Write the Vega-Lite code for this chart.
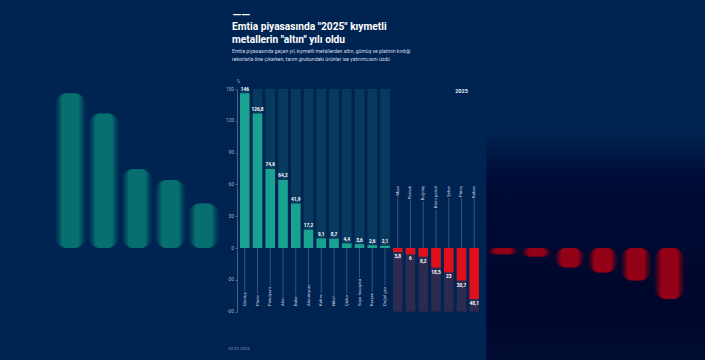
{
  "$schema": "https://vega.github.io/schema/vega-lite/v6.json",
  "width": 245,
  "height": 222.6,
  "autosize": {"type": "none"},
  "padding": {"left": 237, "top": 89, "right": 223, "bottom": 48.4},
  "background": "#002451",
  "config": {
    "view": {"stroke": null},
    "font": "Roboto",
    "axis": {"labelOverlap": false},
    "axisY": {"labelOverlap": false, "labelBound": false, "grid": false, "domain": true, "domainColor": "#5f7396", "domainWidth": 0.8, "ticks": true, "tickSize": 2, "tickColor": "#5f7396", "tickWidth": 0.8, "labelFontSize": 4.8, "labelColor": "#a3afca", "labelPadding": 1.5, "titleAngle": 0, "titleX": 1, "titleY": -8, "titleAlign": "center", "titleBaseline": "middle", "titleFontSize": 4.5, "titleFontWeight": "normal", "titleColor": "#a3afca"},
    "locale": {"number": {"decimal": ",", "thousands": ".", "grouping": [3], "currency": ["", ""], "minus": ""}}
  },
  "title": {
    "text": ["Emtia piyasasında \"2025\" kıymetli", "metallerin \"altın\" yılı oldu"],
    "subtitle": ["Emtia piyasasında geçen yıl, kıymetli metallerden altın, gümüş ve platinin kırdığı", "rekorlarla öne çıkarken, tarım grubundaki ürünler ise yatırımcısını üzdü"],
    "anchor": "start",
    "frame": "group",
    "orient": "top",
    "dx": -5,
    "offset": -53,
    "fontSize": 10.2,
    "fontWeight": "bold",
    "lineHeight": 12.6,
    "color": "#ffffff",
    "subtitleFontSize": 5.1,
    "subtitleLineHeight": 8,
    "subtitlePadding": 3.5,
    "subtitleColor": "#d3dae8"
  },
  "datasets": {
    "main": [
      {"name": "Gümüş", "value": 146},
      {"name": "Platin", "value": 126.8},
      {"name": "Paladyum", "value": 74.6},
      {"name": "Altın", "value": 64.2},
      {"name": "Bakır", "value": 41.9},
      {"name": "Alüminyum", "value": 17.2},
      {"name": "Kahve", "value": 9.1},
      {"name": "Nikel", "value": 8.7},
      {"name": "Çinko", "value": 4.4},
      {"name": "Soya fasulyesi", "value": 3.6},
      {"name": "Kurşun", "value": 2.6},
      {"name": "Doğal gaz", "value": 2.1},
      {"name": "Mısır", "value": -3.8},
      {"name": "Pamuk", "value": -6},
      {"name": "Buğday", "value": -8.2},
      {"name": "Brent petrol", "value": -18.5},
      {"name": "Şeker", "value": -23},
      {"name": "Pirinç", "value": -30.7},
      {"name": "Kakao", "value": -48.1}
    ]
  },
  "resolve": {"scale": {"x": "independent"}},
  "layer": [
    {
      "data": {"name": "main"},
      "encoding": {
        "x": {
          "field": "name", "type": "nominal",
          "axis": {"orient": "top", "labels": false, "ticks": false, "domain": false, "grid": false, "title": "——", "titleFontSize": 11.5, "titleFontWeight": "bold", "titleColor": "#ffffff", "titleX": -5, "titleY": -74.3, "titleAlign": "left", "titleBaseline": "middle", "titleAngle": 0},
          "scale": {
            "domain": ["Gümüş", "Platin", "Paladyum", "Altın", "Bakır", "Alüminyum", "Kahve", "Nikel", "Çinko", "Soya fasulyesi", "Kurşun", "Doğal gaz", "Mısır", "Pamuk", "Buğday", "Brent petrol", "Şeker", "Pirinç", "Kakao"],
            "range": [-183.1, 449.0], "paddingInner": 0, "paddingOuter": 0
          }
        }
      },
      "layer": [
        {
          "transform": [{"filter": {"field": "name", "equal": "Pamuk"}}],
          "mark": {"type": "bar", "clip": false},
          "encoding": {
            "x": {"datum": "Pamuk", "bandPosition": 0, "axis": {"orient": "top", "labels": false, "ticks": false, "domain": false, "grid": false, "title": "——", "titleFontSize": 11.5, "titleFontWeight": "bold", "titleColor": "#ffffff", "titleX": -5, "titleY": -74.3, "titleAlign": "left", "titleBaseline": "middle", "titleAngle": 0}},
            "x2": {"datum": "Kakao", "bandPosition": 1.7},
            "y": {"datum": 111, "type": "quantitative", "title": "%", "axis": {"values": [-60, -30, 0, 30, 60, 90, 120, 150], "labelExpr": "datum.value < 0 ? '-' + datum.label : datum.label"}, "scale": {"domain": [-60, 150], "nice": false, "zero": false}},
            "y2": {"datum": -110},
            "color": {"value": {"gradient": "linear", "x1": 0, "y1": 0, "x2": 0, "y2": 1, "stops": [{"offset": 0, "color": "#002451"}, {"offset": 0.2, "color": "#000c37"}, {"offset": 0.75, "color": "#00062b"}, {"offset": 1, "color": "#020c33"}]}}
          }
        },
        {
          "transform": [{"filter": {"field": "name", "oneOf": ["Gümüş", "Platin", "Paladyum", "Altın", "Bakır", "Pamuk", "Buğday", "Brent petrol", "Şeker", "Pirinç", "Kakao"]}}],
          "encoding": {
            "y": {"field": "value", "type": "quantitative", "title": "%", "axis": {"values": [-60, -30, 0, 30, 60, 90, 120, 150], "labelExpr": "datum.value < 0 ? '-' + datum.label : datum.label"}},
            "y2": {"datum": 0},
            "color": {"condition": {"test": "datum.value > 0", "value": "#0a8a7c"}, "value": "#c4000f"}
          },
          "layer": [
            {"mark": {"type": "bar", "width": {"band": 0.9}, "cornerRadius": 10, "opacity": 0.14}},
            {"mark": {"type": "bar", "width": {"band": 0.78}, "cornerRadius": 8, "opacity": 0.22}},
            {"mark": {"type": "bar", "width": {"band": 0.66}, "cornerRadius": 6, "opacity": 0.32}},
            {"mark": {"type": "bar", "width": {"band": 0.54}, "cornerRadius": 5, "opacity": 0.45}}
          ]
        }
      ]
    },
    {
      "data": {"name": "main"},
      "encoding": {
        "x": {
          "field": "name", "type": "nominal",
          "scale": {
            "domain": ["Gümüş", "Platin", "Paladyum", "Altın", "Bakır", "Alüminyum", "Kahve", "Nikel", "Çinko", "Soya fasulyesi", "Kurşun", "Doğal gaz", "Mısır", "Pamuk", "Buğday", "Brent petrol", "Şeker", "Pirinç", "Kakao"],
            "paddingInner": 0.25, "paddingOuter": 0.233
          },
          "axis": {"labels": false, "ticks": false, "domain": false, "title": "02.01.2026", "titleX": -9, "titleY": 36.5, "titleAlign": "left", "titleBaseline": "middle", "titleFontSize": 4.2, "titleFontWeight": "normal", "titleColor": "#8d9bb8"}
        }
      },
      "layer": [
        {
          "transform": [{"filter": "datum.value > 0"}],
          "mark": {"type": "bar", "color": "#083a5f"},
          "encoding": {
            "y": {"datum": 150, "type": "quantitative", "title": "%", "axis": {"values": [-60, -30, 0, 30, 60, 90, 120, 150], "labelExpr": "datum.value < 0 ? '-' + datum.label : datum.label"}},
            "y2": {"datum": 0}
          }
        },
        {
          "transform": [{"filter": "datum.value < 0"}],
          "mark": {"type": "bar", "color": "#2d2a4f"},
          "encoding": {"y": {"datum": 0, "type": "quantitative", "title": "%", "axis": {"values": [-60, -30, 0, 30, 60, 90, 120, 150], "labelExpr": "datum.value < 0 ? '-' + datum.label : datum.label"}}, "y2": {"datum": -60}}
        },
        {
          "transform": [{"filter": "datum.value > 0"}],
          "mark": {"type": "rule", "color": "#4b6790", "strokeWidth": 0.7},
          "encoding": {"y": {"datum": 0, "type": "quantitative", "title": "%", "axis": {"values": [-60, -30, 0, 30, 60, 90, 120, 150], "labelExpr": "datum.value < 0 ? '-' + datum.label : datum.label"}}, "y2": {"datum": -54.7}}
        },
        {
          "transform": [{"filter": "datum.value < 0"}],
          "mark": {"type": "rule", "color": "#4b6790", "strokeWidth": 0.7},
          "encoding": {"y": {"datum": 58.5, "type": "quantitative", "title": "%", "axis": {"values": [-60, -30, 0, 30, 60, 90, 120, 150], "labelExpr": "datum.value < 0 ? '-' + datum.label : datum.label"}}, "y2": {"datum": 0}}
        },
        {
          "transform": [{"filter": "datum.value > 0"}],
          "encoding": {"y": {"datum": -54.7, "type": "quantitative", "title": "%", "axis": {"values": [-60, -30, 0, 30, 60, 90, 120, 150], "labelExpr": "datum.value < 0 ? '-' + datum.label : datum.label"}}, "text": {"field": "name"}},
          "layer": [
            {"mark": {"type": "text", "angle": 270, "align": "left", "baseline": "middle", "fontSize": 4.3, "stroke": "#002451", "strokeWidth": 2.4, "color": "#002451"}},
            {"mark": {"type": "text", "angle": 270, "align": "left", "baseline": "middle", "fontSize": 4.3, "color": "#d5dcea"}}
          ]
        },
        {
          "transform": [{"filter": "datum.value < 0"}],
          "encoding": {"y": {"datum": 58.5, "type": "quantitative", "title": "%", "axis": {"values": [-60, -30, 0, 30, 60, 90, 120, 150], "labelExpr": "datum.value < 0 ? '-' + datum.label : datum.label"}}, "text": {"field": "name"}},
          "layer": [
            {"mark": {"type": "text", "angle": 270, "align": "right", "baseline": "middle", "fontSize": 4.3, "stroke": "#002451", "strokeWidth": 2.4, "color": "#002451"}},
            {"mark": {"type": "text", "angle": 270, "align": "right", "baseline": "middle", "fontSize": 4.3, "color": "#d5dcea"}}
          ]
        },
        {
          "mark": {"type": "bar"},
          "encoding": {
            "y": {"field": "value", "type": "quantitative", "title": "%", "axis": {"values": [-60, -30, 0, 30, 60, 90, 120, 150], "labelExpr": "datum.value < 0 ? '-' + datum.label : datum.label"}},
            "y2": {"datum": 0},
            "color": {"condition": {"test": "datum.value > 0", "value": "#1aa290"}, "value": "#df0f1b"}
          }
        },
        {
          "transform": [{"filter": "datum.value > 0"}],
          "mark": {"type": "text", "baseline": "bottom", "dy": -1.5, "fontSize": 4.8, "fontWeight": "bold", "color": "#ffffff"},
          "encoding": {"y": {"field": "value", "type": "quantitative", "title": "%", "axis": {"values": [-60, -30, 0, 30, 60, 90, 120, 150], "labelExpr": "datum.value < 0 ? '-' + datum.label : datum.label"}}, "text": {"field": "value", "type": "quantitative", "format": "~g"}}
        },
        {
          "transform": [{"filter": "datum.value < 0"}],
          "mark": {"type": "text", "baseline": "top", "dy": 2, "fontSize": 4.8, "fontWeight": "bold", "color": "#ffffff"},
          "encoding": {"y": {"field": "value", "type": "quantitative", "title": "%", "axis": {"values": [-60, -30, 0, 30, 60, 90, 120, 150], "labelExpr": "datum.value < 0 ? '-' + datum.label : datum.label"}}, "text": {"field": "value", "type": "quantitative", "format": "~g"}}
        },
        {
          "mark": {"type": "rule", "color": "#6a80a4", "strokeWidth": 0.8},
          "encoding": {"y": {"datum": 0, "type": "quantitative", "title": "%", "axis": {"values": [-60, -30, 0, 30, 60, 90, 120, 150], "labelExpr": "datum.value < 0 ? '-' + datum.label : datum.label"}}}
        },
        {
          "data": {"values": [{"label": "2025"}]},
          "mark": {"type": "text", "baseline": "middle", "fontSize": 5.5, "fontWeight": "bold", "color": "#e3e8f2"},
          "encoding": {"x": {"datum": "Pirinç"}, "y": {"datum": 148, "type": "quantitative", "title": "%", "axis": {"values": [-60, -30, 0, 30, 60, 90, 120, 150], "labelExpr": "datum.value < 0 ? '-' + datum.label : datum.label"}}, "text": {"field": "label"}}
        }
      ]
    }
  ]
}
